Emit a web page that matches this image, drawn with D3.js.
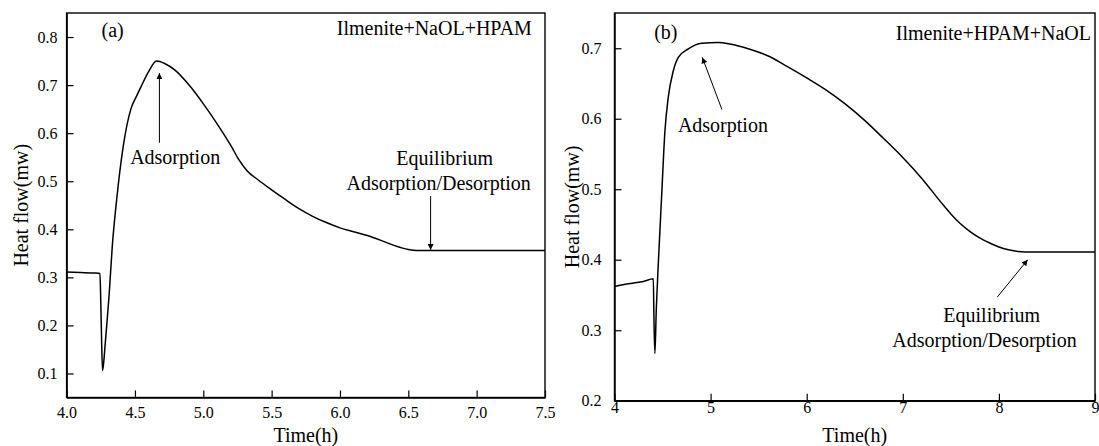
<!DOCTYPE html>
<html>
<head>
<meta charset="utf-8">
<script src="https://cdn.jsdelivr.net/npm/d3@7"></script>
<style>
  html, body { margin: 0; padding: 0; background: #fff; }
  svg { display: block; }
  text { font-family: "Liberation Serif", "Times New Roman", serif; fill: #000; }
</style>
</head>
<body>
<svg id="chart" width="1099" height="446"></svg>
<script>
// ---------- Data: panel (a) Ilmenite+NaOL+HPAM ----------
const timeA = [4.00, 4.10, 4.20, 4.244, 4.250, 4.256, 4.263, 4.272, 4.282, 4.293, 4.312, 4.334, 4.366, 4.414, 4.470, 4.512, 4.550, 4.600, 4.658, 4.717, 4.793, 4.896, 4.998, 5.100, 5.200, 5.260, 5.320, 5.400, 5.500, 5.600, 5.700, 5.800, 5.900, 6.000, 6.100, 6.200, 6.300, 6.400, 6.500, 6.560, 7.500];
const flowA = [0.311, 0.310, 0.309, 0.308, 0.250, 0.170, 0.106, 0.125, 0.160, 0.198, 0.267, 0.364, 0.461, 0.572, 0.650, 0.677, 0.700, 0.728, 0.750, 0.745, 0.731, 0.700, 0.662, 0.620, 0.575, 0.545, 0.522, 0.503, 0.482, 0.462, 0.443, 0.427, 0.414, 0.403, 0.395, 0.387, 0.377, 0.366, 0.358, 0.356, 0.356];

// ---------- Data: panel (b) Ilmenite+HPAM+NaOL ----------
const timeB = [4.00, 4.10, 4.20, 4.30, 4.404, 4.410, 4.420, 4.435, 4.456, 4.490, 4.525, 4.560, 4.612, 4.664, 4.768, 4.907, 5.080, 5.200, 5.400, 5.600, 5.800, 6.000, 6.200, 6.400, 6.600, 6.800, 7.000, 7.200, 7.400, 7.500, 7.600, 7.700, 7.800, 7.900, 8.000, 8.100, 8.200, 8.270, 9.000];
const flowB = [0.362, 0.365, 0.367, 0.369, 0.373, 0.320, 0.267, 0.330, 0.395, 0.489, 0.583, 0.631, 0.668, 0.687, 0.699, 0.707, 0.708, 0.706, 0.699, 0.689, 0.674, 0.658, 0.641, 0.621, 0.598, 0.572, 0.545, 0.515, 0.481, 0.465, 0.451, 0.440, 0.431, 0.424, 0.418, 0.414, 0.4115, 0.411, 0.411];

// ---------- Axis ticks ----------
const xTicksA = [4.0, 4.5, 5.0, 5.5, 6.0, 6.5, 7.0, 7.5];
const yTicksA = [0.1, 0.2, 0.3, 0.4, 0.5, 0.6, 0.7, 0.8];
const xTicksB = [4, 5, 6, 7, 8, 9];
const yTicksB = [0.2, 0.3, 0.4, 0.5, 0.6, 0.7];

// ---------- Labels ----------
const panelLabels = ["(a)", "(b)"];
const sampleLabels = ["Ilmenite+NaOL+HPAM", "Ilmenite+HPAM+NaOL"];
const xTitle = "Time(h)";
const yTitle = "Heat flow(mw)";
const adsLabel = "Adsorption";
const eqLabel1 = "Equilibrium";
const eqLabel2 = "Adsorption/Desorption";

const svg = d3.select("#chart");

const defs = svg.append("defs");
defs.append("marker")
  .attr("id", "arrow")
  .attr("viewBox", "0 0 10 10")
  .attr("refX", 10).attr("refY", 5)
  .attr("markerWidth", 9).attr("markerHeight", 6)
  .attr("markerUnits", "userSpaceOnUse")
  .attr("orient", "auto")
  .append("path").attr("d", "M0,0 L10,5 L0,10 Z").attr("fill", "#000");

function panel(cfg) {
  const x = d3.scaleLinear().domain(cfg.xDomain).range([cfg.x0, cfg.x1]);
  const y = d3.scaleLinear().domain(cfg.yDomain).range([cfg.y1, cfg.y0]);
  const g = svg.append("g");

  // frame
  g.append("rect")
    .attr("x", cfg.x0).attr("y", cfg.y0)
    .attr("width", cfg.x1 - cfg.x0).attr("height", cfg.y1 - cfg.y0)
    .attr("fill", "none").attr("stroke", "#000").attr("stroke-width", 1.4);

  const xAxis = g.append("g").attr("transform", `translate(0,${cfg.y1})`)
    .call(d3.axisBottom(x).tickValues(cfg.xTicks).tickFormat(cfg.xFmt)
      .tickSizeInner(-7).tickSizeOuter(0).tickPadding(cfg.xPad));
  xAxis.select(".domain").attr("stroke-width", 1.4);
  xAxis.selectAll(".tick line").attr("stroke-width", 1.2);
  xAxis.selectAll("text").attr("font-size", 16).attr("font-family", "Liberation Serif").attr("fill", "#000");

  const yAxis = g.append("g").attr("transform", `translate(${cfg.x0},0)`)
    .call(d3.axisLeft(y).tickValues(cfg.yTicks).tickFormat(d3.format(".1f"))
      .tickSizeInner(-7).tickSizeOuter(0).tickPadding(cfg.yPad));
  yAxis.select(".domain").attr("stroke-width", 1.4);
  yAxis.selectAll(".tick line").attr("stroke-width", 1.2);
  yAxis.selectAll("text").attr("font-size", 16).attr("font-family", "Liberation Serif").attr("fill", "#000");

  // axis titles
  g.append("text")
    .attr("x", (cfg.x0 + cfg.x1) / 2).attr("y", 442)
    .attr("text-anchor", "middle").attr("font-size", 20).text(xTitle);
  g.append("text")
    .attr("transform", `translate(${cfg.yTitleX},${(cfg.y0 + cfg.y1) / 2}) rotate(-90)`)
    .attr("text-anchor", "middle").attr("font-size", 20).text(yTitle);

  // curve
  const pts = cfg.time.map((t, i) => [t, cfg.flow[i]]);
  g.append("path")
    .datum(pts)
    .attr("fill", "none").attr("stroke", "#000").attr("stroke-width", 1.5)
    .attr("stroke-linejoin", "round")
    .attr("d", d3.line().x(d => x(d[0])).y(d => y(d[1])).curve(d3.curveMonotoneX));

  // labels
  g.append("text").attr("x", x(cfg.panelPos[0])).attr("y", y(cfg.panelPos[1]))
    .attr("font-size", 20).text(cfg.panelLabel);
  g.append("text").attr("x", x(cfg.samplePos[0])).attr("y", y(cfg.samplePos[1]))
    .attr("text-anchor", "end").attr("font-size", 20).text(cfg.sampleLabel);
  g.append("text").attr("x", x(cfg.adsPos[0])).attr("y", y(cfg.adsPos[1]))
    .attr("text-anchor", "middle").attr("font-size", 20).text(adsLabel);
  g.append("text").attr("x", x(cfg.eq1Pos[0])).attr("y", y(cfg.eq1Pos[1]))
    .attr("text-anchor", "middle").attr("font-size", 20).text(eqLabel1);
  g.append("text").attr("x", x(cfg.eq2Pos[0])).attr("y", y(cfg.eq2Pos[1]))
    .attr("text-anchor", "middle").attr("font-size", 20).text(eqLabel2);

  // arrows
  cfg.arrows.forEach(a => {
    g.append("line")
      .attr("x1", x(a[0])).attr("y1", y(a[1]))
      .attr("x2", x(a[2])).attr("y2", y(a[3]))
      .attr("stroke", "#000").attr("stroke-width", 1)
      .attr("marker-end", "url(#arrow)");
  });
}

panel({
  x0: 66.6, x1: 545, y0: 13, y1: 397.5,
  xDomain: [4.0, 7.5], yDomain: [0.05, 0.85],
  xTicks: xTicksA, yTicks: yTicksA, xFmt: d3.format(".1f"),
  xPad: 9, yPad: 9, yTitleX: 28,
  time: timeA, flow: flowA,
  panelLabel: panelLabels[0], sampleLabel: sampleLabels[0],
  panelPos: [4.256, 0.801], samplePos: [7.404, 0.804],
  adsPos: [4.794, 0.536], eq1Pos: [6.766, 0.533], eq2Pos: [6.722, 0.482],
  arrows: [[4.679, 0.580, 4.679, 0.725], [6.663, 0.469, 6.663, 0.357]]
});

panel({
  x0: 614.5, x1: 1095, y0: 13, y1: 400.7,
  xDomain: [4, 9], yDomain: [0.2, 0.75],
  xTicks: xTicksB, yTicks: yTicksB, xFmt: d3.format("d"),
  xPad: 1, yPad: 13, yTitleX: 579,
  time: timeB, flow: flowB,
  panelLabel: panelLabels[1], sampleLabel: sampleLabels[1],
  panelPos: [4.413, 0.713], samplePos: [8.958, 0.711],
  adsPos: [5.128, 0.581], eq1Pos: [7.925, 0.312], eq2Pos: [7.85, 0.2765],
  arrows: [[5.118, 0.613, 4.914, 0.687], [7.983, 0.347, 8.30, 0.400]]
});
</script>
</body>
</html>
